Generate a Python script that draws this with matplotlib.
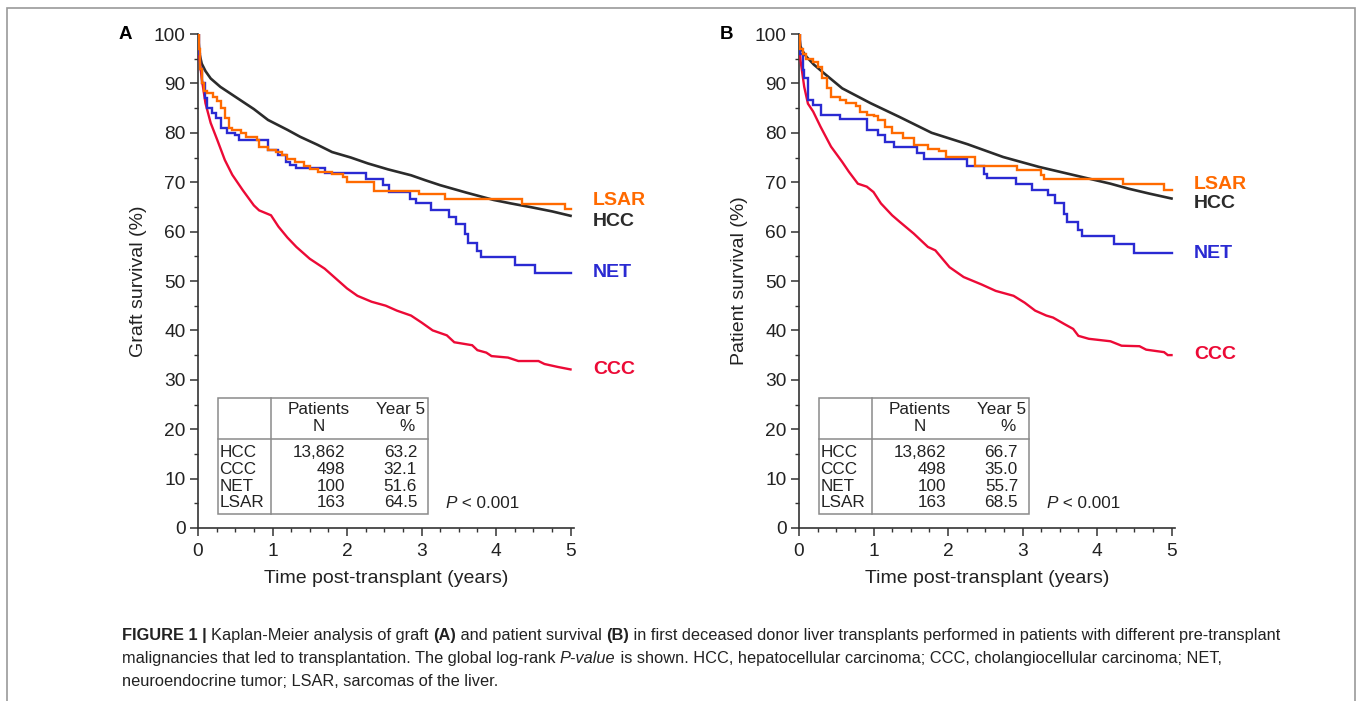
import matplotlib
matplotlib.use("Agg")
import matplotlib.pyplot as plt
from matplotlib.patches import Rectangle
from matplotlib.ticker import MultipleLocator

plt.rcParams["font.family"] = ["Liberation Sans", "DejaVu Sans"]

# ---- data (years, % surviving) ----
GROUPS = ["HCC", "CCC", "NET", "LSAR"]
N_PATIENTS = ["13,862", "498", "100", "163"]
YEAR5_A = ["63.2", "32.1", "51.6", "64.5"]
YEAR5_B = ["66.7", "35.0", "55.7", "68.5"]

hcc_a_t = [0, 0.02, 0.05, 0.1, 0.17, 0.3, 0.5, 0.75, 0.94, 1.2, 1.37, 1.6, 1.8, 2.05,
           2.28, 2.55, 2.86, 3.05, 3.25, 3.6, 3.97, 4.2, 4.45, 4.75, 5.0]
hcc_a_v = [100, 96, 94, 92.5, 91, 89.3, 87.3, 84.8, 82.6, 80.6, 79.2, 77.6, 76.1, 75.0,
           73.8, 72.6, 71.4, 70.4, 69.4, 67.9, 66.4, 65.7, 65.0, 64.1, 63.2]

lsar_a_t = [0, 0.01, 0.03, 0.05, 0.08, 0.12, 0.2, 0.26, 0.31, 0.36, 0.41, 0.46, 0.58, 0.65,
            0.79, 0.82, 0.94, 1.05, 1.13, 1.2, 1.3, 1.42, 1.5, 1.61, 1.8, 1.95, 2.0, 2.36,
            2.96, 3.32, 4.35, 4.93, 5.0]
lsar_a_v = [100, 97, 93, 90, 88.5, 88, 87.3, 86.5, 85, 83, 81, 80.5, 80, 79.2,
            78.6, 77.2, 76.6, 76.1, 75.5, 74.6, 74, 73.3, 72.6, 72, 71.6, 71, 70, 68.3,
            67.6, 66.7, 65.6, 64.5, 64.5]

net_a_t = [0, 0.01, 0.03, 0.05, 0.1, 0.12, 0.19, 0.24, 0.31, 0.385, 0.5, 0.55, 0.94, 1.08,
           1.18, 1.23, 1.32, 1.71, 2.26, 2.48, 2.57, 2.84, 2.93, 3.125, 3.37, 3.46, 3.58,
           3.63, 3.75, 3.8, 4.25, 4.52, 5.0]
net_a_v = [100, 96, 93, 90, 87, 85, 84, 83, 81, 80, 79.5, 78.6, 76.5, 75.5,
           74, 73.5, 72.9, 71.8, 70.6, 69.5, 68, 66.5, 65.7, 64.3, 63, 61.6, 59.5,
           57.6, 56, 54.9, 53.2, 51.6, 51.6]

ccc_a_t = [0, 0.02, 0.05, 0.1, 0.17, 0.26, 0.36, 0.46, 0.6, 0.75, 0.82, 0.98, 1.08, 1.2,
           1.32, 1.5, 1.7, 1.85, 2.0, 2.14, 2.33, 2.52, 2.67, 2.86, 3.0, 3.15, 3.34, 3.44,
           3.68, 3.75, 3.87, 3.94, 4.16, 4.3, 4.57, 4.65, 4.83, 5.0]
ccc_a_v = [100, 95, 91, 86, 82, 78.5, 74.5, 71.5, 68.4, 65.3, 64.3, 63.3, 61, 58.8,
           56.9, 54.5, 52.5, 50.5, 48.5, 47, 45.8, 45, 44, 43, 41.6, 40, 39, 37.6,
           37, 36, 35.5, 34.8, 34.5, 33.8, 33.8, 33.2, 32.6, 32.1]

hcc_b_t = [0, 0.02, 0.05, 0.1, 0.2, 0.34, 0.58, 0.96, 1.35, 1.78, 2.26, 2.74, 3.22, 3.7,
           4.18, 4.42, 4.7, 5.0]
hcc_b_v = [100, 97.5, 96.5, 95.4, 93.8, 92, 89, 86, 83.2, 80, 77.7, 75.1, 73.1, 71.4,
           69.7, 68.7, 67.7, 66.7]

lsar_b_t = [0, 0.02, 0.05, 0.1, 0.19, 0.26, 0.31, 0.38, 0.43, 0.55, 0.625, 0.77, 0.82, 0.91,
            1.0, 1.06, 1.15, 1.25, 1.39, 1.54, 1.73, 1.875, 1.97, 2.36, 2.93, 3.25, 3.29,
            4.35, 4.9, 5.0]
lsar_b_v = [100, 97, 96, 95, 94.4, 93.4, 91, 89, 87.3, 86.6, 86, 85.4, 84.3, 83.6,
            83.4, 82.6, 81.2, 79.9, 78.9, 77.5, 76.8, 76.3, 75.1, 73.3, 72.4, 71.4, 70.6,
            69.6, 68.5, 68.5]

net_b_t = [0, 0.01, 0.05, 0.07, 0.12, 0.19, 0.29, 0.55, 0.91, 1.06, 1.15, 1.27, 1.59, 1.68,
           2.26, 2.48, 2.52, 2.91, 3.125, 3.34, 3.44, 3.56, 3.6, 3.75, 3.8, 4.23, 4.5, 5.0]
net_b_v = [100, 96, 92.7, 91, 86.6, 85.6, 83.7, 82.8, 80.5, 79.5, 78.2, 77.2, 76, 74.7,
           73.3, 71.6, 70.9, 69.7, 68.4, 67.4, 65.8, 63.6, 62, 60.3, 59.1, 57.4, 55.7, 55.7]

ccc_b_t = [0, 0.02, 0.07, 0.12, 0.19, 0.29, 0.43, 0.58, 0.67, 0.79, 0.91, 1.0, 1.1, 1.25,
           1.35, 1.54, 1.73, 1.83, 2.02, 2.21, 2.45, 2.64, 2.88, 3.03, 3.17, 3.32, 3.41,
           3.56, 3.68, 3.75, 3.89, 4.18, 4.33, 4.57, 4.66, 4.9, 4.95, 5.0]
ccc_b_v = [100, 94.7, 89.3, 85.9, 84.3, 81.2, 77.2, 74.1, 72.1, 69.7, 69.1, 68, 65.7, 63.3,
           62, 59.6, 56.9, 56.2, 52.8, 50.8, 49.3, 48, 47, 45.6, 44, 43, 42.6,
           41.3, 40.3, 38.9, 38.3, 37.8, 36.9, 36.8, 36.1, 35.6, 35.0, 35.0]

# end-of-curve label heights (% axis units)
LABEL_Y_A = {"LSAR": 66.2, "HCC": 62.0, "NET": 51.8, "CCC": 32.0}
LABEL_Y_B = {"LSAR": 69.6, "HCC": 65.6, "NET": 55.6, "CCC": 35.1}

COL = {"HCC": "#2b2b2b", "CCC": "#ec0a36", "NET": "#2a2ad2", "LSAR": "#ff6a00"}
AXCOL = "#333333"
TXT = "#222222"

W, H = 1358, 701
fig = plt.figure(figsize=(W / 100, H / 100), dpi=100)

# full-figure layer for the frame and the caption
bg = fig.add_axes([0, 0, 1, 1])
bg.set_axis_off()
bg.set_xlim(0, 1)
bg.set_ylim(0, 1)
bg.add_patch(Rectangle((7 / W, -0.05), (1355 - 7) / W, 1.05 - 8 / H, fill=False,
                       edgecolor="#9a9a9a", lw=1.2, clip_on=False))


def chain(ax, pieces, x, y, size, coords):
    """Draw text pieces one after another on a baseline."""
    prev = None
    for s, weight, style in pieces:
        if prev is None:
            prev = ax.text(x, y, s, fontsize=size, fontweight=weight, fontstyle=style,
                           color=TXT, ha="left", va="baseline", transform=coords)
        else:
            prev = ax.annotate(s, xy=(1, 0), xycoords=prev, fontsize=size,
                               fontweight=weight, fontstyle=style, color=TXT,
                               ha="left", va="bottom")
    return prev


def panel(left, letter, ylabel, curves, year5, labely):
    ax = fig.add_axes([left / W, 1 - 528 / H, 375.5 / W, 494 / H])
    for name in ["CCC", "NET", "LSAR", "HCC"]:
        t, v, step = curves[name]
        ax.plot(t, v, color=COL[name], lw=1.7 if name != "HCC" else 1.9,
                drawstyle="steps-post" if step else "default",
                solid_joinstyle="miter", zorder=3 if name != "HCC" else 2)
        ax.text(5.3, labely[name], name, color=COL[name], fontsize=14, fontweight="bold",
                ha="left", va="center", clip_on=False)
    ax.set_xlim(0, 5.04)
    ax.set_ylim(0, 100)
    ax.xaxis.set_major_locator(MultipleLocator(1))
    ax.xaxis.set_minor_locator(MultipleLocator(0.25))
    ax.yaxis.set_major_locator(MultipleLocator(10))
    ax.yaxis.set_minor_locator(MultipleLocator(5))
    for s in ["top", "right"]:
        ax.spines[s].set_visible(False)
    for s in ["left", "bottom"]:
        ax.spines[s].set_color(AXCOL)
        ax.spines[s].set_linewidth(1.2)
    ax.tick_params(which="major", length=6, width=1.1, color=AXCOL, labelsize=13.8,
                   labelcolor=TXT, pad=3)
    ax.tick_params(axis="x", which="major", pad=5)
    ax.tick_params(which="minor", length=3, width=1.0, color=AXCOL)
    ax.set_xlabel("Time post-transplant (years)", fontsize=14, color=TXT, labelpad=7)
    ax.set_ylabel(ylabel, fontsize=14, color=TXT, labelpad=5)
    ax.text(-0.176, 1.0, letter, transform=ax.transAxes, fontsize=13.5, fontweight="bold",
            color="black", ha="right", va="center")

    # summary table
    x0, xd, x2 = 0.264, 0.976, 3.09
    y0, y1, yd = 2.8, 26.4, 18.1
    ax.add_patch(Rectangle((x0, y0), x2 - x0, y1 - y0, fill=False, edgecolor="#8a8a8a",
                           lw=1.1, zorder=4))
    ax.plot([xd, xd], [y0, y1], color="#8a8a8a", lw=1.1, zorder=4)
    ax.plot([x0, x2], [yd, yd], color="#8a8a8a", lw=1.1, zorder=4)
    fs = 12.3
    ax.text(1.62, 24.0, "Patients", fontsize=fs, ha="center", va="center", color=TXT)
    ax.text(1.62, 20.6, "N", fontsize=fs, ha="center", va="center", color=TXT)
    ax.text(3.05, 24.0, "Year 5", fontsize=fs, ha="right", va="center", color=TXT)
    ax.text(2.80, 20.6, "%", fontsize=fs, ha="center", va="center", color=TXT)
    rows_y = [15.3, 11.9, 8.5, 5.1]
    for g, n, p, yy in zip(GROUPS, N_PATIENTS, year5, rows_y):
        ax.text(0.29, yy, g, fontsize=fs, ha="left", va="center", color=TXT)
        ax.text(1.98, yy, n, fontsize=fs, ha="right", va="center", color=TXT)
        ax.text(2.94, yy, p, fontsize=fs, ha="right", va="center", color=TXT)
    chain(ax, [("P", "normal", "italic"), (" < 0.001", "normal", "normal")],
          3.32, 4.1, fs, ax.transData)
    return ax


panel(198, "A", "Graft survival (%)",
      {"HCC": (hcc_a_t, hcc_a_v, False), "CCC": (ccc_a_t, ccc_a_v, False),
       "NET": (net_a_t, net_a_v, True), "LSAR": (lsar_a_t, lsar_a_v, True)},
      YEAR5_A, LABEL_Y_A)
panel(799, "B", "Patient survival (%)",
      {"HCC": (hcc_b_t, hcc_b_v, False), "CCC": (ccc_b_t, ccc_b_v, False),
       "NET": (net_b_t, net_b_v, True), "LSAR": (lsar_b_t, lsar_b_v, True)},
      YEAR5_B, LABEL_Y_B)

# caption
cap = 11.8
cx = 122 / W
chain(bg, [("FIGURE 1 | ", "bold", "normal"),
           ("Kaplan-Meier analysis of graft ", "normal", "normal"),
           ("(A)", "bold", "normal"),
           (" and patient survival ", "normal", "normal"),
           ("(B)", "bold", "normal"),
           (" in first deceased donor liver transplants performed in patients with "
            "different pre-transplant", "normal", "normal")],
      cx, 1 - 640 / H, cap, bg.transAxes)
chain(bg, [("malignancies that led to transplantation. The global log-rank ", "normal", "normal"),
           ("P-value", "normal", "italic"),
           (" is shown. HCC, hepatocellular carcinoma; CCC, cholangiocellular carcinoma; NET,",
            "normal", "normal")],
      cx, 1 - 663 / H, cap, bg.transAxes)
chain(bg, [("neuroendocrine tumor; LSAR, sarcomas of the liver.", "normal", "normal")],
      cx, 1 - 686 / H, cap, bg.transAxes)

fig.savefig("out.png", dpi=100)
